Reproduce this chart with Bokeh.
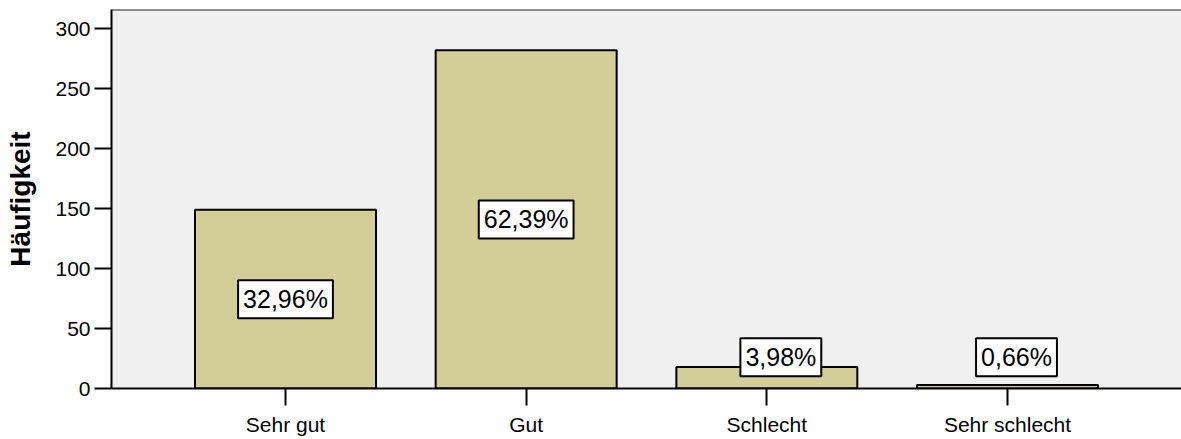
from bokeh.plotting import figure
from bokeh.models import ColumnDataSource, FactorRange, Range1d, Span, FixedTicker
from bokeh.core.properties import value
from bokeh.embed import file_html
from bokeh.resources import INLINE

categories = ["Sehr gut", "Gut", "Schlecht", "Sehr schlecht"]
counts = [149, 282, 18, 3]
percent_labels = ["32,96%", "62,39%", "3,98%", "0,66%"]
y_ticks = [0, 50, 100, 150, 200, 250, 300]

# label placement (style): small bars get their label lifted, with a small sideways shift
label_y = [max(c / 2, 26) for c in counts]
label_dx = [0, 0, 14, 9]

src = ColumnDataSource(dict(cat=categories, val=counts, lab=percent_labels,
                            ly=label_y, dx=label_dx))

y_end = 316
p = figure(width=1181, height=439, output_backend="svg", toolbar_location=None,
           x_range=FactorRange(factors=categories, range_padding=0.223,
                               range_padding_units="absolute"),
           y_range=Range1d(0, y_end),
           min_border_left=111, min_border_top=9, min_border_right=0, min_border_bottom=51)

p.background_fill_color = "#F0F0F0"
p.border_fill_color = "white"
p.outline_line_color = None
p.grid.visible = False

p.vbar(x="cat", top="val", width=0.752, source=src, fill_color="#D3CE97",
       line_color="black", line_width=2)

p.add_layout(Span(location=y_end, dimension="width", line_color="#222222", line_width=2))

p.text(x="cat", y="ly", text="lab", x_offset="dx", source=src,
       text_align="center", text_baseline="middle",
       text_font=value("Liberation Sans"), text_font_size="25px", text_color="black",
       background_fill_color="white", border_line_color="black",
       border_line_width=2, padding=5)

for ax in (p.xaxis[0], p.yaxis[0]):
    ax.axis_line_color = "black"
    ax.axis_line_width = 2
    ax.major_tick_line_color = "black"
    ax.major_tick_line_width = 2
    ax.major_tick_out = 17
    ax.major_tick_in = 0
    ax.minor_tick_line_color = None
    ax.major_label_text_font = "Liberation Sans"
    ax.major_label_text_color = "black"

p.yaxis.ticker = FixedTicker(ticks=y_ticks)
p.yaxis.major_label_text_font_size = "21px"
p.yaxis.major_label_standoff = 4
p.yaxis.axis_label = "Häufigkeit"
p.yaxis.axis_label_text_font = "Liberation Sans"
p.yaxis.axis_label_text_font_style = "bold"
p.yaxis.axis_label_text_font_size = "28px"
p.yaxis.axis_label_text_color = "black"
p.yaxis.axis_label_standoff = 16

p.xaxis.major_label_text_font_size = "21px"
p.xaxis.major_label_standoff = 7

open("out.html", "w").write(file_html(p, INLINE))
